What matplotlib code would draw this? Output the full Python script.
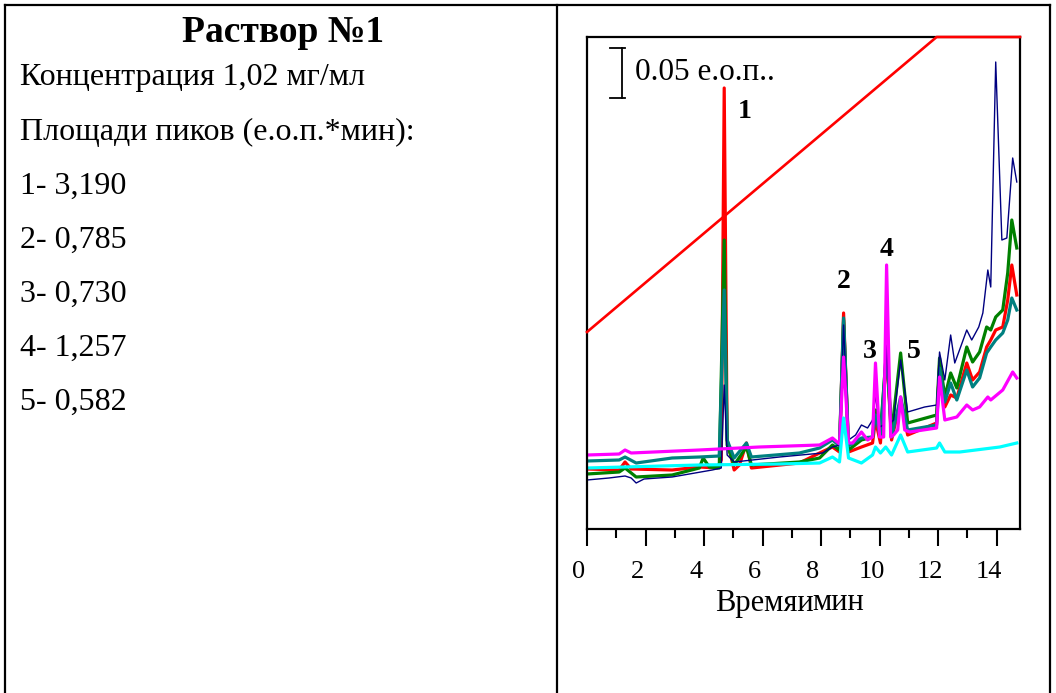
import matplotlib
matplotlib.use("Agg")
import matplotlib.pyplot as plt
from matplotlib.lines import Line2D
from matplotlib.transforms import ScaledTranslation

plt.rcParams['font.family'] = ['Liberation Serif', 'DejaVu Serif']

# --- text of the left cell ---
title = "Раствор №1"
info_lines = ["Концентрация 1,02 мг/мл", "Площади пиков (е.о.п.*мин):"]
peak_ids = ["1", "2", "3", "4", "5"]
peak_areas = ["3,190", "0,785", "0,730", "1,257", "0,582"]

# --- chromatograms: time (min), absorbance (mAU, offset from frame bottom) ---
navy_t = [0.00, 0.75, 1.30, 1.51, 1.68, 1.95, 2.91, 4.28, 4.59, 4.69, 4.79, 5.03, 5.65, 6.58,
          8.05, 8.39, 8.63, 8.77, 8.94, 9.18, 9.38, 9.59, 9.76, 9.86, 10.00, 10.14, 10.24,
          10.38, 10.48, 10.72, 10.96, 11.54, 11.95, 12.05, 12.23, 12.43, 12.57, 12.77, 12.98,
          13.15, 13.39, 13.53, 13.70, 13.80, 13.97, 14.18, 14.35, 14.55, 14.69]
navy_y = [49, 51, 53, 51, 46, 50, 52, 59, 61, 144, 74, 67, 69, 72,
          76, 82, 84, 204, 89, 94, 104, 101, 109, 134, 102, 104, 184,
          106, 109, 169, 117, 122, 124, 177, 149, 194, 166, 182, 199,
          189, 202, 216, 259, 242, 467, 289, 291, 371, 347]

red_t = [0.00, 1.10, 1.30, 1.51, 2.91, 3.84, 4.45, 4.59, 4.69, 4.79, 5.03, 5.21, 5.45, 5.62,
         7.26, 7.95, 8.39, 8.63, 8.77, 8.94, 9.38, 9.76, 9.86, 10.03, 10.24, 10.41, 10.72,
         10.96, 11.95, 12.05, 12.23, 12.43, 12.64, 12.98, 13.18, 13.42, 13.66, 13.80, 13.97,
         14.21, 14.38, 14.52, 14.69]
red_y = [60, 59, 67, 60, 59, 62, 61, 69, 441, 89, 59, 64, 86, 61,
         66, 76, 82, 77, 216, 77, 82, 86, 109, 86, 176, 89, 129,
         94, 106, 164, 122, 134, 131, 166, 149, 157, 182, 189, 199,
         202, 229, 264, 234]

green_t = [0.00, 1.10, 1.30, 1.68, 2.91, 3.84, 3.97, 4.18, 4.52, 4.69, 4.79, 5.03, 5.45, 5.62,
           7.26, 7.95, 8.39, 8.63, 8.77, 8.94, 9.38, 9.76, 9.86, 10.03, 10.24, 10.41, 10.72,
           10.96, 11.95, 12.05, 12.23, 12.43, 12.64, 12.98, 13.18, 13.42, 13.66, 13.80, 13.97,
           14.21, 14.38, 14.52, 14.69]
green_y = [55, 57, 61, 52, 54, 61, 71, 62, 61, 289, 84, 64, 82, 64,
           67, 71, 84, 79, 209, 79, 89, 92, 119, 96, 180, 96, 176,
           106, 114, 171, 132, 156, 141, 182, 167, 177, 202, 199, 212,
           219, 256, 309, 281]

teal_t = [0.00, 1.10, 1.30, 1.68, 2.91, 3.84, 4.52, 4.69, 4.79, 5.03, 5.45, 5.62,
          7.26, 7.95, 8.39, 8.63, 8.77, 8.94, 9.38, 9.76, 9.86, 10.03, 10.24, 10.41, 10.72,
          10.96, 11.95, 12.05, 12.23, 12.43, 12.64, 12.98, 13.18, 13.42, 13.66, 13.80, 13.97,
          14.21, 14.38, 14.52, 14.69]
teal_y = [68, 69, 72, 66, 71, 72, 73, 239, 89, 71, 86, 72,
          76, 81, 89, 83, 211, 83, 91, 92, 114, 92, 180, 92, 132,
          99, 104, 161, 127, 146, 129, 159, 142, 151, 176, 182, 189,
          196, 209, 231, 219]

magenta_t = [0.00, 1.10, 1.30, 1.51, 3.84, 5.89, 7.95, 8.39, 8.63, 8.77, 8.94, 9.08, 9.38,
             9.59, 9.76, 9.86, 10.00, 10.14, 10.24, 10.38, 10.48, 10.62, 10.72, 10.86, 11.03,
             11.95, 12.05, 12.23, 12.64, 12.98, 13.18, 13.42, 13.70, 13.80, 14.21, 14.55, 14.69]
magenta_y = [74, 75, 79, 76, 79, 82, 84, 91, 85, 172, 86, 86, 97,
             89, 92, 166, 92, 92, 264, 92, 94, 99, 132, 99, 97,
             101, 152, 109, 112, 124, 119, 122, 132, 129, 139, 157, 151]

cyan_t = [0.00, 3.84, 6.58, 7.95, 8.39, 8.63, 8.77, 8.94, 9.38, 9.76, 9.86, 10.03, 10.21,
          10.41, 10.72, 10.96, 11.95, 12.05, 12.23, 12.74, 14.11, 14.69]
cyan_y = [61, 64, 65, 66, 72, 67, 111, 71, 66, 74, 82, 76, 82,
          74, 94, 77, 81, 86, 77, 77, 82, 86]

# solvent gradient profile drawn in the same frame
grad_t = [0.0, 11.95, 14.8]
grad_y = [197, 492, 492]

peak_times = [4.69, 8.77, 9.86, 10.24, 10.72]
peak_label_y = [417, 248, 177, 279, 177]

W, H = 1056, 693
fig = plt.figure(figsize=(W / 100, H / 100), dpi=100)


def px(x, y):
    return x / W, 1 - y / H


# table borders
for xs, ys in [([5, 5], [5, 693]), ([557, 557], [5, 693]), ([1050, 1050], [5, 693]),
               ([5, 1050], [5, 5])]:
    fig.add_artist(Line2D([x / W for x in xs], [1 - y / H for y in ys], color='black', lw=1.6))

# left cell text
fig.text(*px(283, 32), title, ha='center', va='center', fontsize=27, fontweight='bold')
fig.text(*px(20, 77), info_lines[0], ha='left', va='center', fontsize=23)
fig.text(*px(20, 132), info_lines[1], ha='left', va='center', fontsize=23)
for i, (pid, area) in enumerate(zip(peak_ids, peak_areas)):
    fig.text(*px(20, 186 + i * 54), f"{pid}- {area}", ha='left', va='center', fontsize=23)

# chromatogram
ax = fig.add_axes([587 / W, 1 - 529 / H, (1020 - 587) / W, (529 - 37) / H])
ax.plot(red_t, red_y, color='#ff0000', lw=2.3)
ax.plot(green_t, green_y, color='#008000', lw=2.3)
ax.plot(teal_t, teal_y, color='#008080', lw=2.3)
ax.plot(navy_t, navy_y, color='#000080', lw=1.0)
ax.plot(magenta_t, magenta_y, color='#ff00ff', lw=2.3)
ax.plot(cyan_t, cyan_y, color='#00ffff', lw=2.3)
ax.plot(grad_t, grad_y, color='#ff0000', lw=1.9, clip_on=False, zorder=5)

ax.set_xlim(0, 14.8)
ax.set_ylim(0, 492)
ax.set_yticks([])
ax.set_xticks(range(0, 15, 2))
ax.set_xticks(range(1, 15, 2), minor=True)
ax.tick_params(axis='x', which='major', direction='out', length=12, width=1.5, pad=11,
               labelsize=19)
ax.tick_params(axis='x', which='minor', direction='out', length=6.5, width=1.5)
for s in ax.spines.values():
    s.set_linewidth(1.6)
shift = ScaledTranslation(-8 / 100, 0, fig.dpi_scale_trans)
for lab in ax.get_xticklabels():
    lab.set_transform(lab.get_transform() + shift)

# scale bar 0.05 AU
ax.plot([1.2, 1.2], [431, 481], color='black', lw=1.3)
ax.plot([0.8, 1.3], [431, 431], color='black', lw=1.3)
ax.plot([0.8, 1.3], [481, 481], color='black', lw=1.3)
ax.text(1.65, 457, "0.05 е.о.п..", ha='left', va='center', fontsize=22.5)

# peak numbers
for pid, tx, ty in zip(peak_ids, peak_times, peak_label_y):
    dx = {"1": 0.7, "2": 0.0, "3": -0.2, "4": 0.0, "5": 0.45}[pid]
    ax.text(tx + dx, ty, pid, ha='center', va='center', fontsize=20, fontweight='bold')

# axis title (the original has the words overlapping)
fig.text(*px(715, 603), "Времяи", ha='left', va='center', fontsize=22)
fig.text(*px(864, 603), "мин", ha='right', va='center', fontsize=22)

fig.savefig("out.png", dpi=100)
